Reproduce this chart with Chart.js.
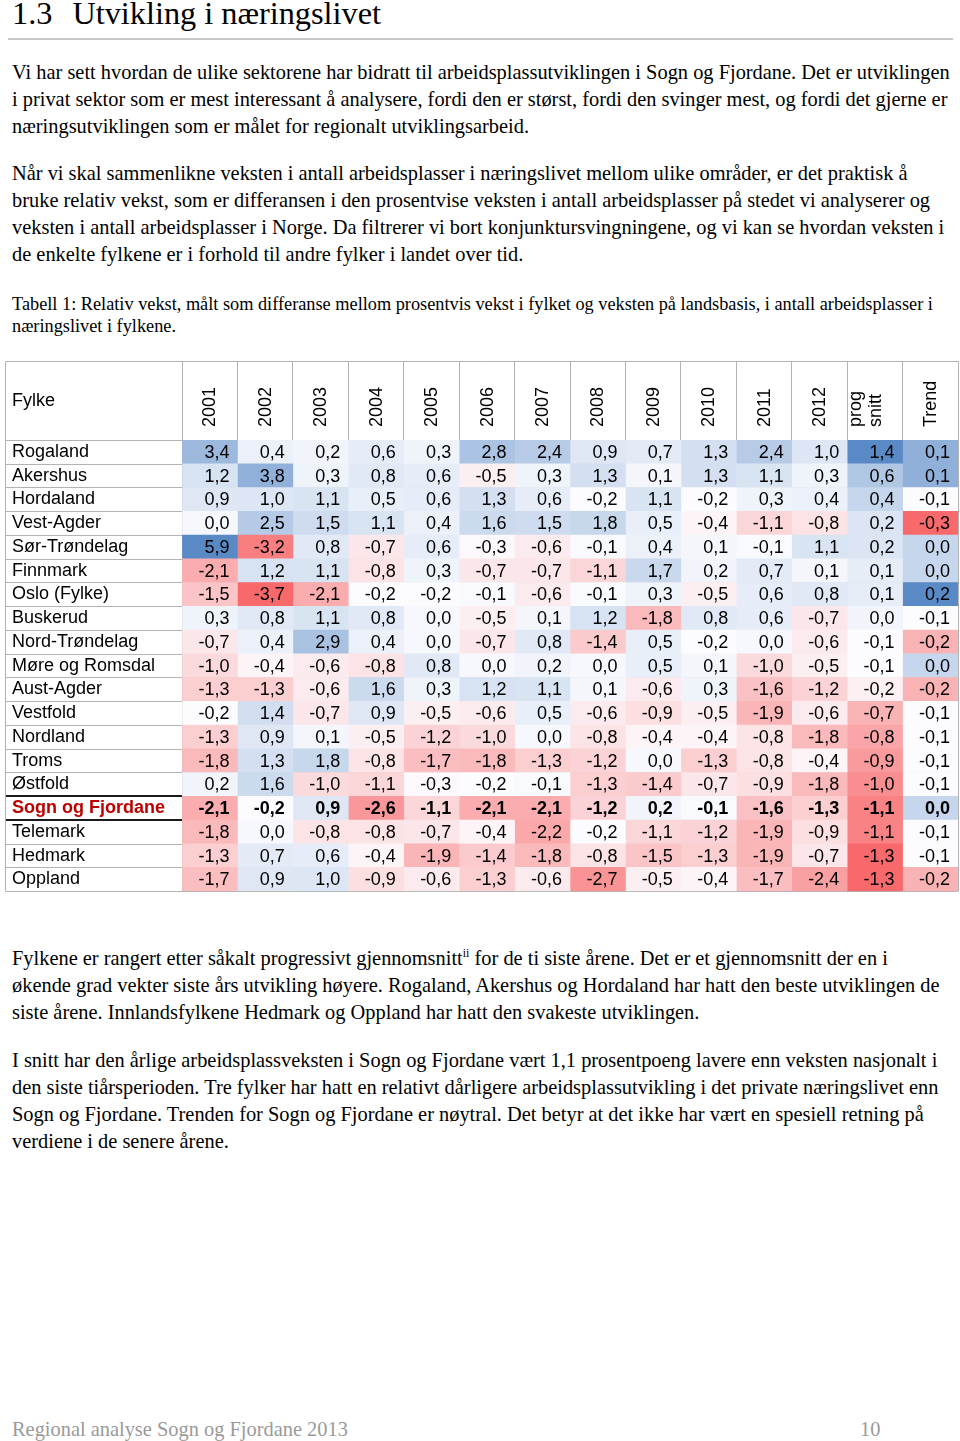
<!DOCTYPE html>
<html lang="no"><head><meta charset="utf-8">
<script src="https://cdn.jsdelivr.net/npm/chart.js@4.4.1/dist/chart.umd.min.js"></script>
<style>
html,body{margin:0;padding:0;background:#fff;}
body{width:960px;height:1441px;position:relative;overflow:hidden;font-family:"Liberation Serif","Times New Roman",serif;color:#000;}
.abs{position:absolute;left:12px;white-space:nowrap;}
.p{font-size:20.4px;line-height:27px;}
.cap{font-size:18.3px;line-height:22px;}
</style></head><body>
<div class="abs" style="top:-3px;font-size:32.3px;line-height:32px;">1.3<span style="margin-left:20px">Utvikling i næringslivet</span></div>
<div style="position:absolute;left:8px;top:38px;width:945px;height:2px;background:#c8c8c8"></div>
<div class="abs p" style="top:59px">Vi har sett hvordan de ulike sektorene har bidratt til arbeidsplassutviklingen i Sogn og Fjordane. Det er utviklingen<br>i privat sektor som er mest interessant å analysere, fordi den er størst, fordi den svinger mest, og fordi det gjerne er<br>næringsutviklingen som er målet for regionalt utviklingsarbeid.</div>
<div class="abs p" style="top:160px">Når vi skal sammenlikne veksten i antall arbeidsplasser i næringslivet mellom ulike områder, er det praktisk å<br>bruke relativ vekst, som er differansen i den prosentvise veksten i antall arbeidsplasser på stedet vi analyserer og<br>veksten i antall arbeidsplasser i Norge. Da filtrerer vi bort konjunktursvingningene, og vi kan se hvordan veksten i<br>de enkelte fylkene er i forhold til andre fylker i landet over tid.</div>
<div class="abs cap" style="top:293px">Tabell 1: Relativ vekst, målt som differanse mellom prosentvis vekst i fylket og veksten på landsbasis, i antall arbeidsplasser i<br>næringslivet i fylkene.</div>
<div style="position:absolute;left:0;top:355px;width:960px;height:550px"><canvas id="c" width="960" height="550" style="width:960px;height:550px"></canvas></div>
<div class="abs p" style="top:945px">Fylkene er rangert etter såkalt progressivt gjennomsnitt<sup style="font-size:12px;line-height:0">ii</sup> for de ti siste årene. Det er et gjennomsnitt der en i<br>økende grad vekter siste års utvikling høyere. Rogaland, Akershus og Hordaland har hatt den beste utviklingen de<br>siste årene. Innlandsfylkene Hedmark og Oppland har hatt den svakeste utviklingen.</div>
<div class="abs p" style="top:1047px">I snitt har den årlige arbeidsplassveksten i Sogn og Fjordane vært 1,1 prosentpoeng lavere enn veksten nasjonalt i<br>den siste tiårsperioden. Tre fylker har hatt en relativt dårligere arbeidsplassutvikling i det private næringslivet enn<br>Sogn og Fjordane. Trenden for Sogn og Fjordane er nøytral. Det betyr at det ikke har vært en spesiell retning på<br>verdiene i de senere årene.</div>
<div class="abs" style="top:1416px;font-size:20.4px;line-height:26px;color:#9a9a9a">Regional analyse Sogn og Fjordane 2013</div>
<div class="abs" style="left:860px;top:1416px;font-size:20.4px;line-height:26px;color:#9a9a9a">10</div>
<script>
const fylker = ['Rogaland','Akershus','Hordaland','Vest-Agder','Sør-Trøndelag','Finnmark','Oslo (Fylke)','Buskerud','Nord-Trøndelag','Møre og Romsdal','Aust-Agder','Vestfold','Nordland','Troms','Østfold','Sogn og Fjordane','Telemark','Hedmark','Oppland'];
const columnLabels = ['2001','2002','2003','2004','2005','2006','2007','2008','2009','2010','2011','2012',['prog','snitt'],'Trend'];
const headerLabel = 'Fylke';
const highlighted = 'Sogn og Fjordane';

const v2001 = [3.4,1.2,0.9,0.0,5.9,-2.1,-1.5,0.3,-0.7,-1.0,-1.3,-0.2,-1.3,-1.8,0.2,-2.1,-1.8,-1.3,-1.7];
const v2002 = [0.4,3.8,1.0,2.5,-3.2,1.2,-3.7,0.8,0.4,-0.4,-1.3,1.4,0.9,1.3,1.6,-0.2,0.0,0.7,0.9];
const v2003 = [0.2,0.3,1.1,1.5,0.8,1.1,-2.1,1.1,2.9,-0.6,-0.6,-0.7,0.1,1.8,-1.0,0.9,-0.8,0.6,1.0];
const v2004 = [0.6,0.8,0.5,1.1,-0.7,-0.8,-0.2,0.8,0.4,-0.8,1.6,0.9,-0.5,-0.8,-1.1,-2.6,-0.8,-0.4,-0.9];
const v2005 = [0.3,0.6,0.6,0.4,0.6,0.3,-0.2,0.0,0.0,0.8,0.3,-0.5,-1.2,-1.7,-0.3,-1.1,-0.7,-1.9,-0.6];
const v2006 = [2.8,-0.5,1.3,1.6,-0.3,-0.7,-0.1,-0.5,-0.7,0.0,1.2,-0.6,-1.0,-1.8,-0.2,-2.1,-0.4,-1.4,-1.3];
const v2007 = [2.4,0.3,0.6,1.5,-0.6,-0.7,-0.6,0.1,0.8,0.2,1.1,0.5,0.0,-1.3,-0.1,-2.1,-2.2,-1.8,-0.6];
const v2008 = [0.9,1.3,-0.2,1.8,-0.1,-1.1,-0.1,1.2,-1.4,0.0,0.1,-0.6,-0.8,-1.2,-1.3,-1.2,-0.2,-0.8,-2.7];
const v2009 = [0.7,0.1,1.1,0.5,0.4,1.7,0.3,-1.8,0.5,0.5,-0.6,-0.9,-0.4,0.0,-1.4,0.2,-1.1,-1.5,-0.5];
const v2010 = [1.3,1.3,-0.2,-0.4,0.1,0.2,-0.5,0.8,-0.2,0.1,0.3,-0.5,-0.4,-1.3,-0.7,-0.1,-1.2,-1.3,-0.4];
const v2011 = [2.4,1.1,0.3,-1.1,-0.1,0.7,0.6,0.6,0.0,-1.0,-1.6,-1.9,-0.8,-0.8,-0.9,-1.6,-1.9,-1.9,-1.7];
const v2012 = [1.0,0.3,0.4,-0.8,1.1,0.1,0.8,-0.7,-0.6,-0.5,-1.2,-0.6,-1.8,-0.4,-1.8,-1.3,-0.9,-0.7,-2.4];
const progSnitt = [1.4,0.6,0.4,0.2,0.2,0.1,0.1,0.0,-0.1,-0.1,-0.2,-0.7,-0.8,-0.9,-1.0,-1.1,-1.1,-1.3,-1.3];
const trend = [0.1,0.1,-0.1,-0.3,0.0,0.0,0.2,-0.1,-0.2,0.0,-0.2,-0.1,-0.1,-0.1,-0.1,0.0,-0.1,-0.1,-0.2];

const columnValues = [v2001,v2002,v2003,v2004,v2005,v2006,v2007,v2008,v2009,v2010,v2011,v2012,progSnitt,trend];
const yearCount = 12;
const hi = fylker.indexOf(highlighted);

const SANS = '"Liberation Sans", Arial, sans-serif';
const GRID = '#b3b3b3';
const RED = [248,105,107], WHITE = [252,252,255], BLUE = [90,138,198];

function percentile(arr, p){
  const s = [...arr].sort((a,b)=>a-b);
  const idx = (s.length-1)*p, lo = Math.floor(idx), hiI = Math.ceil(idx);
  return s[lo] + (s[hiI]-s[lo])*(idx-lo);
}
function makeScale(vals){ return {min:Math.min(...vals), mid:percentile(vals,0.5), max:Math.max(...vals)}; }
const yearScale = makeScale(columnValues.slice(0,yearCount).flat());
const colorScales = columnValues.map((v,i)=> i < yearCount ? yearScale : makeScale(v));
function mix(a,b,t){ return 'rgb(' + a.map((x,i)=>Math.round(x+(b[i]-x)*t)).join(',') + ')'; }
function cellColor(v, s){
  if (v >= s.mid){ const t = s.max===s.mid ? 0 : (v-s.mid)/(s.max-s.mid); return mix(WHITE,BLUE,t); }
  const t = (s.mid-v)/(s.mid-s.min); return mix(WHITE,RED,t);
}
const fmt = v => v.toFixed(1).replace('.', ',');

const datasets = columnValues.map((vals,c)=>({
  label: [].concat(columnLabels[c]).join(' '),
  data: vals.map(()=>[c, c+1]),
  values: vals,
  backgroundColor: vals.map(v=>cellColor(v, colorScales[c])),
  borderWidth: 0,
  barPercentage: 1,
  categoryPercentage: 1,
  grouped: false
}));

const HEADER_H = 79;
const tablePlugin = {
  id: 'tableText',
  afterDraw(chart){
    const ctx = chart.ctx, ys = chart.scales.y, area = chart.chartArea;
    ctx.save();
    ctx.textAlign = 'right'; ctx.textBaseline = 'middle'; ctx.fillStyle = '#000';
    chart.data.datasets.forEach((ds,c)=>{
      const meta = chart.getDatasetMeta(c);
      meta.data.forEach((el,r)=>{
        const p = el.getProps(['x','base','y'], true);
        const right = Math.max(p.x, p.base);
        ctx.font = (r===hi ? 'bold ' : '') + '18px ' + SANS;
        ctx.fillText(fmt(ds.values[r]), right-8, p.y+1);
      });
    });
    const left = 5.5;
    for (let i=0;i<=fylker.length;i++){
      const special = (i===hi||i===hi+1);
      const py = Math.round(ys.getPixelForValue(i-0.5)) + (special?0:0.5);
      ctx.beginPath();
      ctx.strokeStyle = special ? '#1a1a1a' : GRID;
      ctx.lineWidth = special ? 2 : 1;
      ctx.moveTo(left, py); ctx.lineTo(area.left, py); ctx.stroke();
    }
    ctx.strokeStyle = GRID; ctx.lineWidth = 1;
    const top = area.top - HEADER_H + 0.5;
    ctx.beginPath();
    ctx.moveTo(left, area.bottom); ctx.lineTo(left, top); ctx.lineTo(area.right, top);
    ctx.moveTo(left, area.top+0.5); ctx.lineTo(area.left, area.top+0.5);
    ctx.stroke();
    ctx.textAlign = 'left'; ctx.font = '18px ' + SANS; ctx.fillStyle = '#000';
    ctx.fillText(headerLabel, 12, area.top - HEADER_H/2 + 1);
    ctx.restore();
  }
};

const cellW = (958-182)/columnValues.length;

new Chart(document.getElementById('c'), {
  type: 'bar',
  data: { labels: fylker, datasets },
  plugins: [tablePlugin],
  options: {
    indexAxis: 'y',
    responsive: false,
    animation: false,
    events: [],
    layout: { padding: { left: 12, right: 2, top: 0, bottom: 6 } },
    plugins: { legend: { display: false }, tooltip: { enabled: false } },
    scales: {
      x: {
        type: 'linear', position: 'top', min: 0, max: columnValues.length, z: 1,
        afterBuildTicks: s => { s.ticks = columnValues.map((_,i)=>({value:i})).concat([{value:columnValues.length}]); },
        afterFit: s => { s.height = 85; },
        grid: { color: GRID, lineWidth: 1, tickLength: HEADER_H, drawTicks: true },
        border: { display: true, color: GRID, width: 1 },
        ticks: {
          autoSkip: false, minRotation: 90, maxRotation: 90, padding: -66,
          labelOffset: cellW/2 + 20.5,
          font: { size: 18, family: SANS, lineHeight: 1.1 }, color: '#000',
          callback: (v) => columnLabels[v] ?? ''
        }
      },
      y: {
        type: 'category', z: 1,
        afterFit: s => { s.width = 170; },
        grid: {
          offset: true, drawTicks: false,
          color: ctx => (ctx.index===hi || ctx.index===hi+1) ? '#1a1a1a' : GRID,
          lineWidth: ctx => (ctx.index===hi || ctx.index===hi+1) ? 2 : 1
        },
        border: { display: true, color: GRID, width: 1 },
        ticks: {
          crossAlign: 'far', autoSkip: false,
          font: ctx => ({ size: 18, family: SANS, weight: ctx.index===hi ? 'bold' : 'normal' }),
          color: ctx => ctx.index===hi ? '#c00000' : '#000'
        }
      }
    }
  }
});
</script>
</body></html>
